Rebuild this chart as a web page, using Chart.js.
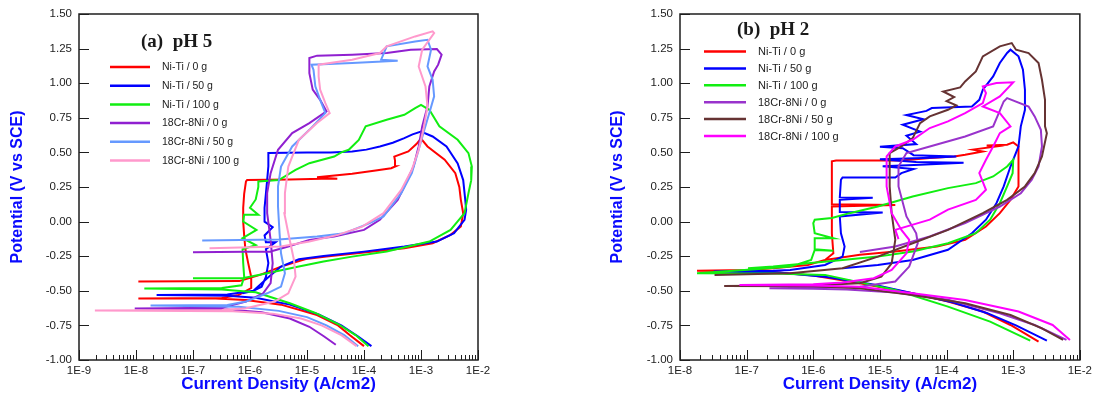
<!DOCTYPE html>
<html><head><meta charset="utf-8">
<script src="https://cdn.jsdelivr.net/npm/chart.js@4.4.1/dist/chart.umd.min.js"></script>
<style>
html,body{margin:0;padding:0;background:#fff;}
#wrap{position:relative;width:1096px;height:398px;overflow:hidden;}
.pane{position:absolute;top:0;width:548px;height:398px;}
</style></head><body>
<div id="wrap">
<div class="pane" style="left:0"><canvas id="cA" width="548" height="398"></canvas></div>
<div class="pane" style="left:548px"><canvas id="cB" width="548" height="398"></canvas></div>
</div>
<script>
// ---------- shared categories / ticks ----------
const seriesLabels = ['Ni-Ti / 0 g','Ni-Ti / 50 g','Ni-Ti / 100 g','18Cr-8Ni / 0 g','18Cr-8Ni / 50 g','18Cr-8Ni / 100 g'];
const yTickVals = [-1.00,-0.75,-0.50,-0.25,0.00,0.25,0.50,0.75,1.00,1.25,1.50];
const yTickLabels = ['-1.00','-0.75','-0.50','-0.25','0.00','0.25','0.50','0.75','1.00','1.25','1.50'];
const xTickValsA = [1e-9,1e-8,1e-7,1e-6,1e-5,1e-4,1e-3,1e-2];
const xTickLabelsA = ['1E-9','1E-8','1E-7','1E-6','1E-5','1E-4','1E-3','1E-2'];
const xTickValsB = [1e-8,1e-7,1e-6,1e-5,1e-4,1e-3,1e-2];
const xTickLabelsB = ['1E-8','1E-7','1E-6','1E-5','1E-4','1E-3','1E-2'];

// ---------- panel (a) pH 5 : current density (A/cm2) and potential (V vs SCE) ----------
const aNiTi0_I = [1.0e-4,5.6e-5,3.5e-5,1.5e-5,3.5e-6,8.5e-7,2.5e-7,1.1e-8,3.2e-7,6.3e-7,1.05e-6,1.05e-6,9.3e-7,8.3e-7,7.9e-7,7.6e-7,7.6e-7,7.9e-7,8.5e-7,8.9e-7,5.0e-6,1.8e-5,3.4e-5,1.5e-5,6.2e-5,1.6e-4,3.0e-4,3.6e-4,3.5e-4,3.4e-4,6.0e-4,8.3e-4,1.0e-3,1.3e-3,2.6e-3,4.0e-3,4.7e-3,5.0e-3,5.5e-3,5.0e-3,3.3e-3,1.6e-3,5.1e-4,1.0e-4,2.2e-5,9.5e-6,3.5e-6,1.5e-6,6.5e-7,1.1e-8];
const aNiTi0_E = [-0.90,-0.82,-0.75,-0.675,-0.60,-0.566,-0.556,-0.555,-0.552,-0.53,-0.48,-0.40,-0.30,-0.20,-0.10,0.0,0.10,0.20,0.29,0.30,0.305,0.31,0.31,0.32,0.345,0.37,0.386,0.40,0.44,0.47,0.507,0.56,0.60,0.543,0.447,0.35,0.25,0.157,0.06,-0.035,-0.096,-0.156,-0.192,-0.224,-0.253,-0.27,-0.325,-0.385,-0.43,-0.432];

const aNiTi50_I = [1.35e-4,7.9e-5,4.0e-5,1.6e-5,5.0e-6,1.26e-6,4.0e-7,2.3e-8,4.0e-7,1.15e-6,1.6e-6,1.9e-6,2.1e-6,2.0e-6,1.9e-6,2.8e-6,1.9e-6,1.8e-6,2.5e-6,1.8e-6,1.8e-6,1.9e-6,2.0e-6,2.1e-6,2.1e-6,1.0e-5,2.6e-5,6.2e-5,1.1e-4,1.9e-4,3.2e-4,5.1e-4,7.1e-4,1.0e-3,1.6e-3,2.8e-3,4.4e-3,5.5e-3,6.0e-3,6.2e-3,5.8e-3,3.8e-3,1.9e-3,5.1e-4,1.0e-4,1.95e-5,7.2e-6,3.5e-6,2.0e-6,1.15e-6,7.4e-7];
const aNiTi50_E = [-0.90,-0.83,-0.75,-0.67,-0.60,-0.55,-0.535,-0.53,-0.527,-0.50,-0.47,-0.40,-0.30,-0.25,-0.20,-0.15,-0.15,-0.10,-0.04,0.0,0.10,0.20,0.30,0.40,0.495,0.50,0.50,0.507,0.52,0.543,0.57,0.603,0.63,0.651,0.615,0.543,0.42,0.30,0.15,0.085,0.013,-0.084,-0.144,-0.18,-0.217,-0.248,-0.272,-0.325,-0.41,-0.50,-0.518];

const aNiTi100_I = [1.2e-4,7.1e-5,3.5e-5,1.4e-5,5.0e-6,1.26e-6,3.2e-7,1.4e-8,3.2e-7,7.1e-7,7.9e-7,7.6e-7,7.4e-7,1.26e-6,7.4e-7,1.3e-6,7.6e-7,7.9e-7,1.4e-6,1.0e-6,1.26e-6,1.4e-6,1.4e-6,3.2e-6,6.3e-6,1.1e-5,3.0e-5,4.0e-5,5.4e-5,8.1e-5,1.07e-4,2.5e-4,5.1e-4,7.9e-4,1.0e-3,1.4e-3,2.1e-3,4.4e-3,6.8e-3,7.8e-3,7.6e-3,6.8e-3,5.8e-3,3.3e-3,1.4e-3,2.5e-4,6.2e-5,1.95e-5,7.2e-6,2.0e-6,7.4e-7,1.0e-7];
const aNiTi100_E = [-0.90,-0.82,-0.74,-0.66,-0.59,-0.51,-0.49,-0.484,-0.48,-0.46,-0.40,-0.30,-0.20,-0.17,-0.12,-0.06,0.0,0.05,0.05,0.10,0.16,0.25,0.29,0.30,0.374,0.422,0.47,0.50,0.519,0.59,0.688,0.736,0.772,0.82,0.844,0.808,0.688,0.591,0.495,0.398,0.30,0.205,0.061,-0.06,-0.144,-0.216,-0.253,-0.289,-0.325,-0.373,-0.41,-0.41];

const aCr0_I = [3.2e-5,2.0e-5,1.1e-5,5.0e-6,1.6e-6,4.0e-7,9.5e-9,3.2e-7,8.5e-7,1.7e-6,2.3e-6,2.5e-6,2.3e-6,2.0e-6,2.0e-6,2.3e-6,3.1e-6,5.5e-6,1.1e-5,2.2e-5,1.7e-5,1.26e-5,1.1e-5,1.1e-5,1.5e-5,6.2e-5,2.5e-4,6.6e-4,1.9e-3,2.3e-3,2.0e-3,1.7e-3,1.4e-3,1.3e-3,1.05e-3,9.1e-4,7.4e-4,5.1e-4,3.9e-4,1.9e-4,1.0e-4,3.0e-5,1.1e-5,4.7e-6,2.3e-6,1.0e-7];
const aCr0_E = [-0.89,-0.83,-0.76,-0.70,-0.655,-0.635,-0.627,-0.622,-0.578,-0.518,-0.445,-0.30,-0.132,0.061,0.206,0.35,0.519,0.64,0.712,0.796,0.88,0.953,1.073,1.182,1.199,1.206,1.218,1.242,1.247,1.206,1.134,1.085,0.977,0.832,0.688,0.543,0.398,0.254,0.157,0.013,-0.06,-0.108,-0.132,-0.18,-0.216,-0.221];

const aCr50_I = [7.9e-5,4.5e-5,2.2e-5,1.0e-5,3.2e-6,6.3e-7,1.8e-8,4.0e-7,8.5e-7,2.0e-6,3.5e-6,4.1e-6,3.5e-6,3.3e-6,3.1e-6,3.1e-6,3.5e-6,5.5e-6,1.1e-5,2.1e-5,1.7e-5,1.4e-5,1.3e-5,1.2e-5,6.2e-5,3.9e-4,2.0e-4,2.5e-4,7.9e-4,1.3e-3,1.5e-3,1.3e-3,1.6e-3,1.7e-3,1.4e-3,1.1e-3,9.1e-4,6.9e-4,4.5e-4,2.2e-4,1.26e-4,4.6e-5,1.5e-5,3.2e-6,1.45e-7];
const aCr50_E = [-0.90,-0.82,-0.75,-0.69,-0.645,-0.615,-0.607,-0.602,-0.578,-0.518,-0.47,-0.373,-0.229,-0.084,0.109,0.254,0.398,0.543,0.663,0.784,0.88,0.977,1.097,1.134,1.146,1.163,1.17,1.266,1.302,1.314,1.242,1.121,1.025,0.905,0.784,0.639,0.519,0.35,0.205,0.037,-0.011,-0.084,-0.108,-0.13,-0.137];

const aCr100_I = [7.4e-5,4.0e-5,1.8e-5,7.9e-6,2.5e-6,5.0e-7,1.9e-9,3.2e-7,8.5e-7,2.7e-6,4.7e-6,6.3e-6,5.9e-6,4.7e-6,4.0e-6,4.1e-6,4.7e-6,7.2e-6,1.5e-5,2.5e-5,2.1e-5,1.7e-5,1.6e-5,1.6e-5,6.2e-5,1.9e-4,2.5e-4,7.9e-4,1.6e-3,1.7e-3,1.05e-3,9.1e-4,1.2e-3,1.3e-3,1.1e-3,9.1e-4,6.9e-4,4.5e-4,2.2e-4,9.3e-5,3.5e-5,1.1e-5,3.5e-6,1.95e-7];
const aCr100_E = [-0.90,-0.82,-0.75,-0.70,-0.665,-0.648,-0.643,-0.638,-0.626,-0.578,-0.518,-0.397,-0.277,-0.084,0.061,0.206,0.398,0.591,0.712,0.784,0.856,0.953,1.049,1.134,1.17,1.218,1.266,1.338,1.375,1.363,1.242,1.121,0.977,0.832,0.663,0.519,0.374,0.229,0.061,-0.036,-0.096,-0.144,-0.18,-0.192];

// ---------- panel (b) pH 2 ----------
const bNiTi0_I = [2.4e-3,9.1e-4,3.5e-4,1.05e-4,3.1e-5,5.0e-6,1.0e-6,2.5e-7,1.0e-7,1.8e-8,1.0e-7,2.5e-7,8.3e-7,1.5e-6,2.0e-6,1.9e-6,1.9e-6,1.9e-6,1.7e-5,1.9e-6,1.9e-6,1.9e-6,2.2e-6,2.1e-5,5.6e-5,1.3e-4,1.9e-4,3.5e-4,2.5e-4,5.6e-4,4.0e-4,8.1e-4,1.0e-3,1.2e-3,1.2e-3,1.2e-3,1.2e-3,9.1e-4,6.3e-4,3.9e-4,1.9e-4,7.2e-5,1.7e-5,5.0e-6,1.5e-6];
const bNiTi0_E = [-0.867,-0.747,-0.65,-0.578,-0.518,-0.446,-0.39,-0.365,-0.358,-0.356,-0.35,-0.337,-0.313,-0.277,-0.229,-0.084,-0.01,0.109,0.12,0.125,0.254,0.435,0.442,0.442,0.459,0.471,0.483,0.507,0.52,0.543,0.55,0.555,0.572,0.543,0.447,0.35,0.254,0.157,0.061,-0.036,-0.132,-0.18,-0.216,-0.24,-0.277];

const bNiTi50_I = [3.2e-3,1.1e-3,4.0e-4,1.26e-4,3.2e-5,7.9e-6,1.6e-6,3.2e-7,3.2e-8,2.5e-7,4.5e-7,1.5e-6,2.75e-6,2.95e-6,2.6e-6,2.5e-6,1.1e-5,2.5e-6,2.5e-6,7.8e-6,2.5e-6,2.6e-6,2.75e-6,1.7e-5,2.1e-5,3.2e-5,1.1e-5,4.0e-5,1.8e-4,3.5e-5,1.0e-5,4.5e-5,1.4e-4,3.2e-5,2.2e-5,1.0e-5,3.5e-5,2.5e-5,4.0e-5,2.2e-5,4.5e-5,2.5e-5,5.0e-5,6.0e-5,2.4e-4,3.1e-4,3.5e-4,5.0e-4,6.3e-4,8.1e-4,9.1e-4,1.2e-3,1.4e-3,1.5e-3,1.5e-3,1.3e-3,1.2e-3,9.1e-4,7.2e-4,5.6e-4,3.9e-4,2.4e-4,1.05e-4,3.1e-5,9.3e-6,2.75e-6];
const bNiTi50_E = [-0.86,-0.75,-0.66,-0.585,-0.52,-0.455,-0.40,-0.37,-0.361,-0.355,-0.349,-0.313,-0.253,-0.18,-0.084,0.037,0.066,0.07,0.157,0.172,0.175,0.302,0.319,0.319,0.35,0.38,0.40,0.41,0.425,0.43,0.45,0.46,0.47,0.48,0.53,0.54,0.56,0.62,0.65,0.70,0.74,0.77,0.80,0.82,0.832,0.88,0.953,1.049,1.146,1.218,1.242,1.194,1.097,0.953,0.808,0.688,0.543,0.398,0.254,0.133,0.014,-0.084,-0.204,-0.277,-0.313,-0.337];

const bNiTi100_I = [1.8e-3,4.5e-4,1.05e-4,1.7e-5,1.5e-6,2.5e-7,1.8e-8,1.35e-7,4.5e-7,9.3e-7,1.05e-6,2.0e-6,1.05e-6,1.05e-6,2.0e-6,1.05e-6,1.0e-6,1.05e-6,1.9e-6,3.5e-6,9.3e-6,3.1e-5,1.05e-4,2.75e-4,5.0e-4,8.1e-4,1.0e-3,9.8e-4,8.1e-4,6.3e-4,4.5e-4,2.75e-4,1.05e-4,3.1e-5,9.3e-6,2.75e-6,8.3e-7,2.5e-7,1.05e-7];
const bNiTi100_E = [-0.86,-0.723,-0.614,-0.494,-0.385,-0.375,-0.373,-0.344,-0.325,-0.277,-0.205,-0.21,-0.2,-0.12,-0.12,-0.084,-0.011,0.013,0.026,0.061,0.109,0.181,0.242,0.278,0.326,0.398,0.447,0.35,0.254,0.133,0.014,-0.084,-0.156,-0.216,-0.253,-0.277,-0.301,-0.325,-0.337];

const bCr0_I = [6.3e-3,2.1e-3,6.3e-4,1.05e-4,1.7e-5,3.2e-6,1.0e-6,2.2e-7,1.0e-6,5.0e-6,1.7e-5,2.75e-5,3.7e-5,3.5e-5,2.5e-5,1.9e-5,1.9e-5,2.5e-5,5.6e-5,1.9e-4,5.0e-4,7.2e-4,8.1e-4,1.7e-3,2.1e-3,2.6e-3,2.7e-3,2.4e-3,1.9e-3,1.3e-3,6.3e-4,1.9e-4,5.6e-5,1.7e-5,5.0e-6];
const bCr0_E = [-0.855,-0.747,-0.663,-0.565,-0.512,-0.49,-0.485,-0.482,-0.478,-0.47,-0.433,-0.325,-0.156,-0.084,0.037,0.254,0.398,0.495,0.543,0.615,0.688,0.868,0.892,0.832,0.76,0.663,0.543,0.398,0.302,0.205,0.109,-0.01,-0.108,-0.18,-0.22];

const bCr50_I = [5.6e-3,2.7e-3,9.1e-4,1.9e-4,3.1e-5,5.0e-6,1.0e-6,4.6e-8,1.0e-6,5.0e-6,1.05e-5,1.5e-5,1.7e-5,1.5e-5,1.4e-5,1.4e-5,2.1e-5,3.1e-5,4.0e-5,5.6e-5,1.05e-4,1.4e-4,1.0e-4,1.3e-4,8.9e-5,1.6e-4,1.9e-4,2.75e-4,3.5e-4,6.3e-4,9.5e-4,1.1e-3,1.7e-3,2.4e-3,2.7e-3,3.0e-3,3.0e-3,3.2e-3,2.7e-3,2.1e-3,1.5e-3,8.1e-4,3.5e-4,1.05e-4,3.1e-5,9.3e-6,2.75e-6,4.5e-7,3.3e-8];
const bCr50_E = [-0.855,-0.771,-0.675,-0.59,-0.53,-0.482,-0.468,-0.465,-0.46,-0.446,-0.397,-0.301,-0.132,0.061,0.254,0.495,0.543,0.603,0.712,0.76,0.808,0.84,0.87,0.90,0.94,0.97,1.013,1.085,1.194,1.266,1.29,1.242,1.218,1.146,1.025,0.88,0.688,0.639,0.471,0.35,0.254,0.157,0.061,-0.06,-0.156,-0.253,-0.337,-0.373,-0.385];

const bCr100_I = [7.1e-3,3.9e-3,1.2e-3,1.9e-4,3.1e-5,5.0e-6,1.0e-6,7.8e-8,1.0e-6,2.75e-6,8.1e-6,1.5e-5,2.5e-5,2.75e-5,2.1e-5,1.5e-5,1.26e-5,1.26e-5,1.7e-5,3.1e-5,5.6e-5,1.05e-4,1.9e-4,3.5e-4,3.9e-4,3.5e-4,5.6e-4,1.0e-3,6.3e-4,3.5e-4,6.3e-4,9.1e-4,6.3e-4,5.0e-4,3.9e-4,3.1e-4,3.9e-4,2.75e-4,1.05e-4,5.6e-5,1.7e-5,1.9e-5];
const bCr100_E = [-0.855,-0.747,-0.65,-0.566,-0.518,-0.47,-0.461,-0.458,-0.452,-0.44,-0.409,-0.349,-0.229,-0.132,-0.06,0.061,0.254,0.471,0.543,0.591,0.676,0.724,0.784,0.856,0.929,0.977,1.001,1.006,0.905,0.832,0.784,0.688,0.639,0.543,0.447,0.35,0.23,0.157,0.087,0.014,-0.06,-0.127];

// ---------- helpers ----------
const SANS = '"Liberation Sans", Arial, Helvetica, sans-serif';
const SERIF = '"Liberation Serif", "Times New Roman", serif';
Chart.defaults.font.family = SANS;

function pts(I, E) {
  const n = Math.min(I.length, E.length), out = [];
  for (let i = 0; i < n; i++) out.push({x: I[i], y: E[i]});
  return out;
}

const decorPlugin = {
  id: 'panelDecor',
  afterDatasetsDraw(chart, args, o) {
    const {ctx, chartArea: a} = chart;
    const xs = chart.scales.x, ys = chart.scales.y;
    ctx.save();
    ctx.strokeStyle = '#1e1e1e';
    ctx.lineWidth = 1.5;
    ctx.strokeRect(a.left, a.top, a.right - a.left, a.bottom - a.top);
    ctx.lineWidth = 1;
    ctx.beginPath();
    ys.ticks.forEach(t => {
      const py = Math.round(ys.getPixelForValue(t.value)) + 0.5;
      ctx.moveTo(a.left, py); ctx.lineTo(a.left + 10, py);
    });
    const dec = o.decades;
    dec.forEach((d, k) => {
      const px = Math.round(xs.getPixelForValue(d)) + 0.5;
      ctx.moveTo(px, a.bottom); ctx.lineTo(px, a.bottom - 10);
      if (k < dec.length - 1) {
        for (let m = 2; m <= 9; m++) {
          const qx = Math.round(xs.getPixelForValue(d * m)) + 0.5;
          ctx.moveTo(qx, a.bottom); ctx.lineTo(qx, a.bottom - 5);
        }
      }
    });
    ctx.stroke();
    // panel title
    ctx.fillStyle = '#1a1a1a';
    ctx.font = 'bold 19px ' + SERIF;
    ctx.textBaseline = 'middle';
    ctx.textAlign = 'left';
    ctx.fillText(o.title, o.titleX, o.titleY);
    // legend
    ctx.font = o.legendFont + 'px ' + SANS;
    chart.data.datasets.forEach((ds, i) => {
      const y = o.legY0 + i * o.legDy;
      ctx.strokeStyle = ds.borderColor;
      ctx.lineWidth = 2.5;
      ctx.beginPath(); ctx.moveTo(o.legX0, y); ctx.lineTo(o.legX1, y); ctx.stroke();
      ctx.fillStyle = '#222';
      ctx.fillText(ds.label, o.legTextX, y + 0.5);
    });
    ctx.restore();
  }
};

function makePanel(id, cfg) {
  const datasets = cfg.series.map((s, i) => ({
    label: seriesLabels[i], data: pts(s[0], s[1]),
    borderColor: cfg.colors[i], backgroundColor: cfg.colors[i],
    borderWidth: 2, pointRadius: 0, pointHoverRadius: 0,
    showLine: true, fill: false, tension: 0, order: -i
  }));
  return new Chart(document.getElementById(id), {
    type: 'scatter',
    data: {datasets},
    options: {
      responsive: false, animation: false, events: [],
      layout: {padding: cfg.padding},
      plugins: {legend: {display: false}, tooltip: {enabled: false}, panelDecor: cfg.decor},
      scales: {
        x: {
          type: 'logarithmic', min: cfg.xTicks[0], max: cfg.xTicks[cfg.xTicks.length - 1],
          afterBuildTicks: s => { s.ticks = cfg.xTicks.map(v => ({value: v})); },
          afterFit: s => { s.height = 38; },
          grid: {display: false, drawTicks: false}, border: {display: false},
          ticks: {autoSkip: false, maxRotation: 0, minRotation: 0, padding: 4, color: '#222',
                  font: {size: 11.5}, callback: (v, i) => cfg.xLabels[i]},
          title: {display: true, text: 'Current Density (A/cm2)', color: '#0a0aff',
                  font: {size: 17, weight: 'bold'}, padding: {top: 0, bottom: 3}}
        },
        y: {
          min: -1, max: 1.5,
          afterBuildTicks: s => { s.ticks = yTickVals.map(v => ({value: v})); },
          afterFit: s => { s.width = cfg.yWidth; },
          grid: {display: false, drawTicks: false}, border: {display: false},
          ticks: {autoSkip: false, padding: 7, color: '#222', font: {size: 11.5},
                  callback: (v, i) => yTickLabels[i]},
          title: {display: true, text: 'Potential (V vs SCE)', color: '#0a0aff',
                  font: {size: 16, weight: 'bold'}, padding: {top: cfg.yTitlePad, bottom: 0}}
        }
      }
    },
    plugins: [decorPlugin]
  });
}

makePanel('cA', {
  series: [[aNiTi0_I, aNiTi0_E], [aNiTi50_I, aNiTi50_E], [aNiTi100_I, aNiTi100_E],
           [aCr0_I, aCr0_E], [aCr50_I, aCr50_E], [aCr100_I, aCr100_E]],
  colors: ['#ff0000', '#0000ff', '#11ee11', '#9020d0', '#6699ff', '#ff99cc'],
  xTicks: xTickValsA, xLabels: xTickLabelsA,
  padding: {left: 0, right: 70, top: 14, bottom: 0},
  yWidth: 79, yTitlePad: 8,
  decor: {decades: xTickValsA, title: '(a)  pH 5', titleX: 141, titleY: 42,
          legX0: 110, legX1: 150, legTextX: 162, legY0: 67, legDy: 18.7, legendFont: 10.5}
});

makePanel('cB', {
  series: [[bNiTi0_I, bNiTi0_E], [bNiTi50_I, bNiTi50_E], [bNiTi100_I, bNiTi100_E],
           [bCr0_I, bCr0_E], [bCr50_I, bCr50_E], [bCr100_I, bCr100_E]],
  colors: ['#ff0000', '#0000ff', '#11ee11', '#9933cc', '#663333', '#ff00ff'],
  xTicks: xTickValsB, xLabels: xTickLabelsB,
  padding: {left: 0, right: 15, top: 14, bottom: 0},
  yWidth: 132, yTitlePad: 60,
  decor: {decades: xTickValsB, title: '(b)  pH 2', titleX: 189, titleY: 30,
          legX0: 156, legX1: 198, legTextX: 210, legY0: 51.5, legDy: 16.9, legendFont: 11}
});
</script>
</body></html>
